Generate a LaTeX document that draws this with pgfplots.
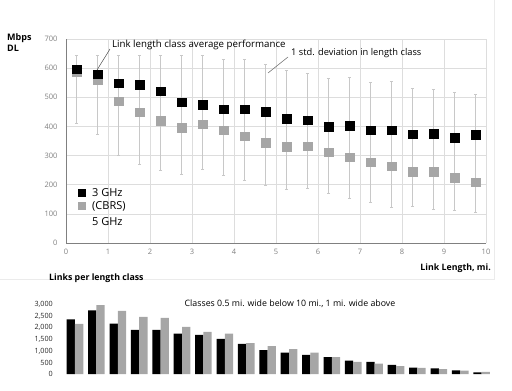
\documentclass[border=0pt]{standalone}
\usepackage{pgfplots}
\pgfplotsset{compat=1.18}
\usepackage{pgfplotstable}
\usepackage{fontspec}
\setmainfont{Open Sans}
\definecolor{gfive}{HTML}{A6A6A6}
\definecolor{errc}{HTML}{C8C8C8}
\definecolor{gridc}{HTML}{DDDDDD}
\definecolor{tickc}{HTML}{7F7F7F}

\pgfplotstableread{
x    b    g    lo   hi
0.25 597  586  411  645
0.75 579  559  371  645
1.25 549  487  301  645
1.75 543  448  270  645
2.25 520  420  249  645
2.75 483  396  236  645
3.25 475  408  252  645
3.75 460  388  232  630
4.25 460  367  215  630
4.75 450  344  198  614
5.25 427  331  184  593
5.75 421  332  186  583
6.25 399  312  170  566
6.75 402  295  153  568
7.25 387  277  141  552
7.75 387  264  123  555
8.25 374  244  124  531
8.75 375  244  116  527
9.25 361  224  112  518
9.75 372  208  105  511
}\perf

\pgfplotstableread{
i  b     g
0  2368  2165
1  2757  2987
2  2178  2728
3  1905  2468
4  1905  2425
5  1745  2035
6  1689  1819
7  1516  1745
8  1299  1342
9  1039  1212
10 922   1082
11 823   922
12 736   736
13 577   520
14 520   447
15 390   346
16 274   260
17 245   216
18 159   144
19 72    87
}\links

\begin{document}
\begin{tikzpicture}[x=1pt,y=1pt]
\useasboundingbox (0,0) rectangle (512,-391);
\draw[black!8, line width=0.6pt] (0,-279) -- (494,-279) -- (494,0);

\begin{axis}[
  at={(66pt,-243pt)}, anchor=south west,
  scale only axis, width=420pt, height=204pt,
  xmin=0, xmax=10, ymin=0, ymax=700,
  xtick={0,1,...,10}, ytick={0,100,...,700},
  grid=major, major grid style={draw=gridc, line width=0.7pt},
  axis lines*=left,
  axis line style={draw=black!50, line width=0.9pt},
  major tick length=0pt,
  /pgf/number format/assume math mode=true,
  tick label style={font=\fontsize{7.5}{8}\selectfont, text=tickc},
  yticklabel style={xshift=-5pt},
  xticklabel style={yshift=-3pt},
  clip=false,
]
\addplot[only marks, mark=square*, mark size=4.2pt,
  mark options={fill=gfive, draw=gfive},
  error bars/.cd, y dir=both, y explicit,
  error bar style={draw=errc, line width=1pt},
  error mark options={rotate=90, mark size=1.6pt, draw=errc, line width=0.8pt}]
  table[x=x, y=g, y error plus expr=\thisrow{hi}-\thisrow{g}, y error minus expr=\thisrow{g}-\thisrow{lo}] {\perf};
\addplot[only marks, mark=square*, mark size=4.2pt,
  mark options={fill=black, draw=black}]
  table[x=x, y=b] {\perf};
\end{axis}

% annotations
\draw[black!70, line width=0.5pt] (110,-49) -- (97,-70);
\node[anchor=west, font=\fontsize{9.7}{12}\selectfont, inner sep=0] at (112,-45) {Link length class average performance};
\draw[black!60, line width=0.5pt] (288,-57) -- (268,-73);
\node[anchor=west, font=\fontsize{9.3}{11}\selectfont, inner sep=0] at (291,-53) {1 std. deviation in length class};

% axis titles
\node[anchor=north west, align=left, font=\fontsize{9}{11.5}\selectfont\bfseries, inner sep=0] at (7,-33) {Mbps\\DL};
\node[anchor=east, font=\fontsize{8.8}{10}\selectfont\bfseries, inner sep=0] at (491,-268) {Link Length, mi.};

% legend
\fill[black] (78,-189) rectangle (85.5,-196.5);
\node[anchor=west, font=\fontsize{11}{13}\selectfont, inner sep=0] at (92,-192.7) {3 GHz};
\fill[gfive] (78,-202.3) rectangle (85.5,-209.8);
\node[anchor=west, font=\fontsize{11}{13}\selectfont, inner sep=0] at (92,-206) {(CBRS)};
\node[anchor=west, font=\fontsize{11}{13}\selectfont, inner sep=0] at (92,-221.7) {5 GHz};

% bottom chart
\node[anchor=west, font=\fontsize{8.8}{10}\selectfont\bfseries, inner sep=0] at (49,-278) {Links per length class};
\node[font=\fontsize{8.8}{10}\selectfont, inner sep=0] at (290,-304) {Classes 0.5 mi. wide below 10 mi., 1 mi. wide above};

\begin{axis}[
  at={(64.3pt,-374pt)}, anchor=south west,
  scale only axis, width=428pt, height=69.3pt,
  xmin=-0.5, xmax=19.5, ymin=0, ymax=3000,
  ybar=0pt, bar width=8.3pt,
  axis line style={draw=none},
  xtick=\empty, ytick={0,500,...,3000},
  major tick length=0pt,
  /pgf/number format/assume math mode=true,
  /pgf/number format/1000 sep={,},
  tick label style={font=\fontsize{7.2}{8}\selectfont, text=black!85},
  yticklabel style={xshift=-8pt},
]
\addplot[fill=black, draw=none] table[x=i, y=b] {\links};
\addplot[fill=gfive, draw=none] table[x=i, y=g] {\links};
\end{axis}
\end{tikzpicture}
\end{document}
